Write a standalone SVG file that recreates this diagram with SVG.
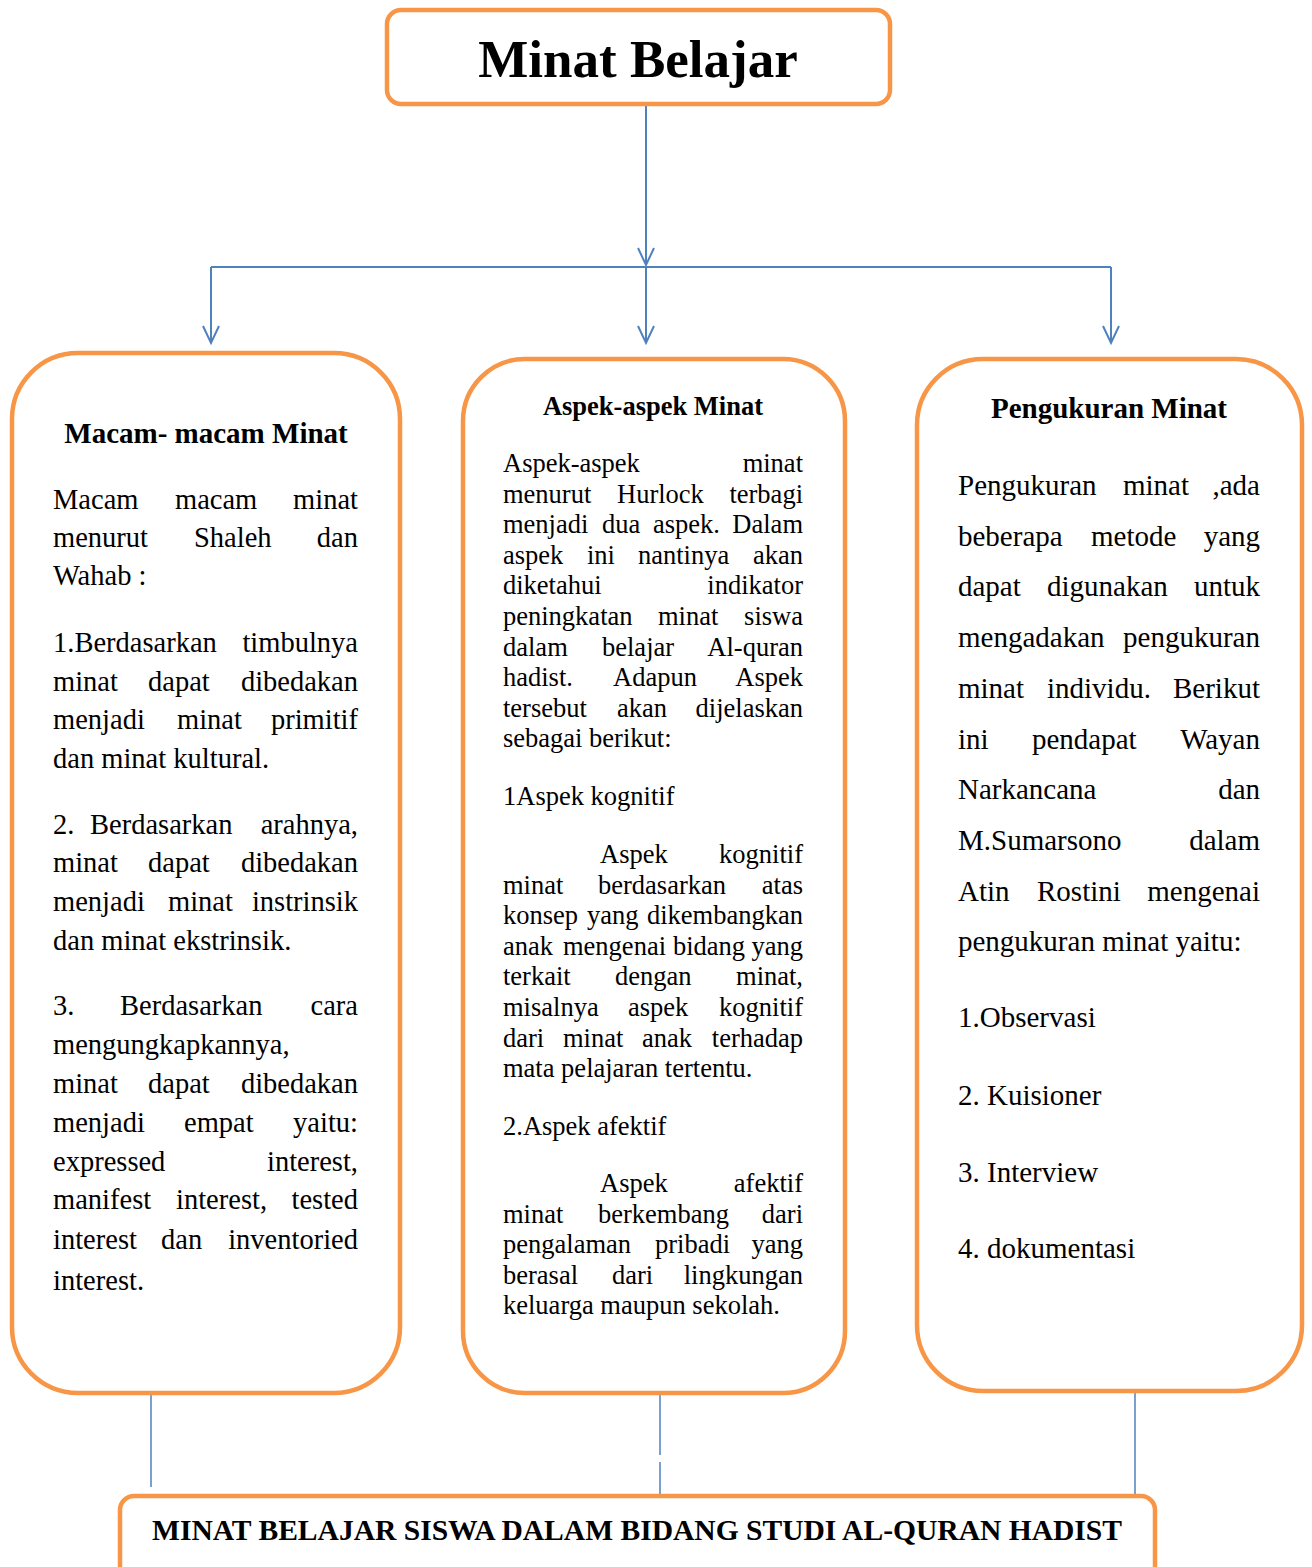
<svg xmlns="http://www.w3.org/2000/svg" width="1312" height="1567" viewBox="0 0 1312 1567">
<style>
.box{fill:#fff;stroke:#F79646;stroke-width:4.5}
.ln{stroke:#4F81BD;stroke-width:2;fill:none}
.ln2{stroke:#4F81BD;stroke-width:1.5;fill:none}
text{font-family:"Liberation Serif","Times New Roman",serif;fill:#000}
.h{font-weight:bold;text-anchor:middle}
.l{font-size:28.5px}
.m{font-size:26.5px}
.r{font-size:29px}
.e{text-anchor:end}
</style>
<defs>
<marker id="ah" markerUnits="userSpaceOnUse" markerWidth="24" markerHeight="24" viewBox="-20 -12 24 24" refX="0" refY="0" orient="auto">
<path d="M-17,-8 L0,0 L-17,8" fill="none" stroke="#4F81BD" stroke-width="2"/>
</marker>
</defs>

<g id="connectors">
<line class="ln" x1="646" y1="104" x2="646" y2="265" marker-end="url(#ah)"/>
<line class="ln" x1="211" y1="267" x2="1111" y2="267"/>
<line class="ln" x1="211" y1="267" x2="211" y2="343" marker-end="url(#ah)"/>
<line class="ln" x1="646" y1="267" x2="646" y2="343" marker-end="url(#ah)"/>
<line class="ln" x1="1111" y1="267" x2="1111" y2="343" marker-end="url(#ah)"/>
<line class="ln2" x1="151" y1="1395" x2="151" y2="1487"/>
<line class="ln2" x1="660" y1="1393" x2="660" y2="1455"/>
<line class="ln2" x1="660" y1="1462" x2="660" y2="1494"/>
<line class="ln2" x1="1135" y1="1393" x2="1135" y2="1495"/>
</g>

<g id="node-title">
<rect class="box" x="387" y="10" width="503" height="94" rx="14"/>
<text class="h" x="638" y="77" font-size="53">Minat Belajar</text>
</g>

<g id="node-macam">
<rect class="box" x="12" y="353" width="388" height="1040" rx="66"/>
<text class="h" x="206" y="443" font-size="29">Macam- macam Minat</text>
<text class="l" y="509"><tspan x="53">Macam</tspan><tspan x="175">macam</tspan><tspan x="358" class="e">minat</tspan></text>
<text class="l" y="547"><tspan x="53">menurut</tspan><tspan x="194">Shaleh</tspan><tspan x="358" class="e">dan</tspan></text>
<text class="l" x="53" y="585">Wahab :</text>
<text class="l" y="652"><tspan x="53">1.Berdasarkan</tspan><tspan x="358" class="e">timbulnya</tspan></text>
<text class="l" y="691"><tspan x="53">minat</tspan><tspan x="148">dapat</tspan><tspan x="358" class="e">dibedakan</tspan></text>
<text class="l" y="729"><tspan x="53">menjadi</tspan><tspan x="177">minat</tspan><tspan x="358" class="e">primitif</tspan></text>
<text class="l" x="53" y="768">dan minat kultural.</text>
<text class="l" y="834"><tspan x="53">2.</tspan><tspan x="90">Berdasarkan</tspan><tspan x="358" class="e">arahnya,</tspan></text>
<text class="l" y="872"><tspan x="53">minat</tspan><tspan x="148">dapat</tspan><tspan x="358" class="e">dibedakan</tspan></text>
<text class="l" y="911"><tspan x="53">menjadi</tspan><tspan x="168">minat</tspan><tspan x="358" class="e">instrinsik</tspan></text>
<text class="l" x="53" y="950">dan minat ekstrinsik.</text>
<text class="l" y="1015"><tspan x="53">3.</tspan><tspan x="120">Berdasarkan</tspan><tspan x="358" class="e">cara</tspan></text>
<text class="l" x="53" y="1054">mengungkapkannya,</text>
<text class="l" y="1093"><tspan x="53">minat</tspan><tspan x="148">dapat</tspan><tspan x="358" class="e">dibedakan</tspan></text>
<text class="l" y="1132"><tspan x="53">menjadi</tspan><tspan x="184">empat</tspan><tspan x="358" class="e">yaitu:</tspan></text>
<text class="l" y="1171"><tspan x="53">expressed</tspan><tspan x="358" class="e">interest,</tspan></text>
<text class="l" y="1209"><tspan x="53">manifest</tspan><tspan x="176">interest,</tspan><tspan x="358" class="e">tested</tspan></text>
<text class="l" y="1249"><tspan x="53">interest</tspan><tspan x="161">dan</tspan><tspan x="358" class="e">inventoried</tspan></text>
<text class="l" x="53" y="1290">interest.</text>
</g>

<g id="node-aspek">
<rect class="box" x="463" y="359" width="382" height="1034" rx="62"/>
<text class="h" x="653" y="415" font-size="26.5">Aspek-aspek Minat</text>
<text class="m" y="472"><tspan x="503">Aspek-aspek</tspan><tspan x="803" class="e">minat</tspan></text>
<text class="m" y="502.6"><tspan x="503">menurut</tspan><tspan x="617">Hurlock</tspan><tspan x="803" class="e">terbagi</tspan></text>
<text class="m" y="533.2"><tspan x="503">menjadi</tspan><tspan x="602">dua</tspan><tspan x="653">aspek.</tspan><tspan x="803" class="e">Dalam</tspan></text>
<text class="m" y="563.8"><tspan x="503">aspek</tspan><tspan x="587">ini</tspan><tspan x="638">nantinya</tspan><tspan x="803" class="e">akan</tspan></text>
<text class="m" y="594.4"><tspan x="503">diketahui</tspan><tspan x="803" class="e">indikator</tspan></text>
<text class="m" y="625"><tspan x="503">peningkatan</tspan><tspan x="658">minat</tspan><tspan x="803" class="e">siswa</tspan></text>
<text class="m" y="655.6"><tspan x="503">dalam</tspan><tspan x="602">belajar</tspan><tspan x="803" class="e">Al-quran</tspan></text>
<text class="m" y="686.2"><tspan x="503">hadist.</tspan><tspan x="613">Adapun</tspan><tspan x="803" class="e">Aspek</tspan></text>
<text class="m" y="716.8"><tspan x="503">tersebut</tspan><tspan x="617">akan</tspan><tspan x="803" class="e">dijelaskan</tspan></text>
<text class="m" x="503" y="747.4">sebagai berikut:</text>
<text class="m" x="503" y="805">1Aspek kognitif</text>
<text class="m" y="863"><tspan x="600">Aspek</tspan><tspan x="803" class="e">kognitif</tspan></text>
<text class="m" y="893.6"><tspan x="503">minat</tspan><tspan x="598">berdasarkan</tspan><tspan x="803" class="e">atas</tspan></text>
<text class="m" y="924.2"><tspan x="503">konsep</tspan><tspan x="587">yang</tspan><tspan x="803" class="e">dikembangkan</tspan></text>
<text class="m" y="954.8"><tspan x="503">anak</tspan><tspan x="563">mengenai</tspan><tspan x="673">bidang</tspan><tspan x="803" class="e">yang</tspan></text>
<text class="m" y="985.4"><tspan x="503">terkait</tspan><tspan x="615">dengan</tspan><tspan x="803" class="e">minat,</tspan></text>
<text class="m" y="1016"><tspan x="503">misalnya</tspan><tspan x="628">aspek</tspan><tspan x="803" class="e">kognitif</tspan></text>
<text class="m" y="1046.6"><tspan x="503">dari</tspan><tspan x="563">minat</tspan><tspan x="642">anak</tspan><tspan x="803" class="e">terhadap</tspan></text>
<text class="m" x="503" y="1077.2">mata pelajaran tertentu.</text>
<text class="m" x="503" y="1135">2.Aspek afektif</text>
<text class="m" y="1192"><tspan x="600">Aspek</tspan><tspan x="803" class="e">afektif</tspan></text>
<text class="m" y="1222.6"><tspan x="503">minat</tspan><tspan x="598">berkembang</tspan><tspan x="803" class="e">dari</tspan></text>
<text class="m" y="1253.2"><tspan x="503">pengalaman</tspan><tspan x="655">pribadi</tspan><tspan x="803" class="e">yang</tspan></text>
<text class="m" y="1283.8"><tspan x="503">berasal</tspan><tspan x="612">dari</tspan><tspan x="803" class="e">lingkungan</tspan></text>
<text class="m" x="503" y="1314.4">keluarga maupun sekolah.</text>
</g>

<g id="node-pengukuran">
<rect class="box" x="917" y="359" width="385" height="1032" rx="66"/>
<text class="h" x="1109" y="418" font-size="29">Pengukuran Minat</text>
<text class="r" y="495"><tspan x="958">Pengukuran</tspan><tspan x="1123">minat</tspan><tspan x="1260" class="e">,ada</tspan></text>
<text class="r" y="545.7"><tspan x="958">beberapa</tspan><tspan x="1091">metode</tspan><tspan x="1260" class="e">yang</tspan></text>
<text class="r" y="596.4"><tspan x="958">dapat</tspan><tspan x="1047">digunakan</tspan><tspan x="1260" class="e">untuk</tspan></text>
<text class="r" y="647.1"><tspan x="958">mengadakan</tspan><tspan x="1260" class="e">pengukuran</tspan></text>
<text class="r" y="697.8"><tspan x="958">minat</tspan><tspan x="1047">individu.</tspan><tspan x="1260" class="e">Berikut</tspan></text>
<text class="r" y="748.5"><tspan x="958">ini</tspan><tspan x="1032">pendapat</tspan><tspan x="1260" class="e">Wayan</tspan></text>
<text class="r" y="799.2"><tspan x="958">Narkancana</tspan><tspan x="1260" class="e">dan</tspan></text>
<text class="r" y="849.9"><tspan x="958">M.Sumarsono</tspan><tspan x="1260" class="e">dalam</tspan></text>
<text class="r" y="900.6"><tspan x="958">Atin</tspan><tspan x="1037">Rostini</tspan><tspan x="1260" class="e">mengenai</tspan></text>
<text class="r" x="958" y="951.3">pengukuran minat yaitu:</text>
<text class="r" x="958" y="1027">1.Observasi</text>
<text class="r" x="958" y="1105">2. Kuisioner</text>
<text class="r" x="958" y="1182">3. Interview</text>
<text class="r" x="958" y="1258">4. dokumentasi</text>
</g>

<g id="node-bottom">
<rect class="box" x="120" y="1496" width="1035" height="110" rx="14"/>
<text x="152" y="1540" font-size="30" font-weight="bold" textLength="970" lengthAdjust="spacingAndGlyphs">MINAT BELAJAR SISWA DALAM BIDANG STUDI AL-QURAN HADIST</text>
</g>
</svg>
